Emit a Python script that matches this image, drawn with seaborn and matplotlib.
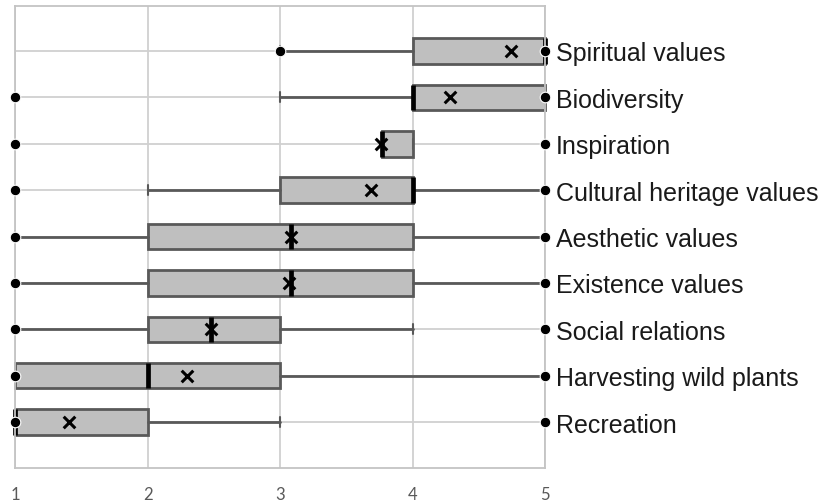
import numpy as np
import pandas as pd
import seaborn as sns
import matplotlib.pyplot as plt

# Summary values (top row first)
categories = ['Spiritual values', 'Biodiversity', 'Inspiration', 'Cultural heritage values',
              'Aesthetic values', 'Existence values', 'Social relations',
              'Harvesting wild plants', 'Recreation']
whisker_lo = [3, 3, 3.77, 2, 1, 1, 1, 1, 1]
q1 = [4, 4, 3.77, 3, 2, 2, 2, 1, 1]
median = [5, 4, 3.77, 4, 3.08, 3.08, 2.48, 2, 1]
q3 = [5, 5, 4, 4, 4, 4, 3, 3, 2]
whisker_hi = [5, 5, 4, 5, 5, 5, 4, 5, 3]
mean = [4.74, 4.28, 3.76, 3.69, 3.08, 3.07, 2.48, 2.30, 1.41]
minimum = [3, 1, 1, 1, 1, 1, 1, 1, 1]
maximum = [5, 5, 5, 5, 5, 5, 5, 5, 5]

sns.set_style('white')
plt.rcParams['font.family'] = ['Liberation Sans', 'DejaVu Sans']

fig = plt.figure(figsize=(8.26, 5.02), dpi=100)
ax = fig.add_axes([15 / 826, 33 / 502, 530 / 826, 462 / 502])

rows = np.arange(len(categories))
stats = []
for i, cat in enumerate(categories):
    stats.append(dict(label=cat, whislo=whisker_lo[i], q1=q1[i], med=median[i],
                      q3=q3[i], whishi=whisker_hi[i], fliers=[]))

edge = '#595959'
parts = ax.bxp(stats, positions=rows, orientation='horizontal', widths=0.55,
               patch_artist=True, showfliers=False, capwidths=0.22,
               boxprops=dict(facecolor='#bfbfbf', edgecolor=edge, linewidth=2.0),
               whiskerprops=dict(color=edge, linewidth=2.0),
               capprops=dict(color=edge, linewidth=1.5),
               medianprops=dict(color='black', linewidth=3.4, solid_capstyle='butt'))
for group in parts.values():
    for art in group:
        art.set_clip_on(False)

pts = pd.DataFrame({'row': np.concatenate([rows, rows]),
                    'value': minimum + maximum})
sns.scatterplot(data=pts, x='value', y='row', ax=ax, color='black', s=58,
                edgecolor='white', linewidth=0.8, zorder=5, legend=False,
                clip_on=False)

means = pd.DataFrame({'row': rows, 'value': mean})
sns.scatterplot(data=means, x='value', y='row', ax=ax, marker='x', color='black',
                s=70, linewidth=2.2, zorder=6, legend=False, clip_on=False)

ax.set_xlim(1, 5)
ax.set_ylim(8.99, -0.97)
ax.set_xticks([1, 2, 3, 4, 5])
ax.set_xticklabels(['1', '2', '3', '4', '5'], fontsize=12, color='#595959',
                   family=['Lato', 'DejaVu Sans'])
ax.set_yticks(rows)
ax.set_yticklabels(categories, fontsize=18, color='#1a1a1a')
ax.yaxis.tick_right()
ax.tick_params(axis='y', length=0, pad=8)
ax.tick_params(axis='x', length=0, pad=13)

ax.set_axisbelow(True)
ax.grid(True, color='#d0d0d0', linewidth=1.3)
for side in ['top', 'bottom', 'left', 'right']:
    ax.spines[side].set_color('#c4c4c4')
    ax.spines[side].set_linewidth(1.3)
ax.set_xlabel('')
ax.set_ylabel('')

fig.savefig('out.png', dpi=100)
